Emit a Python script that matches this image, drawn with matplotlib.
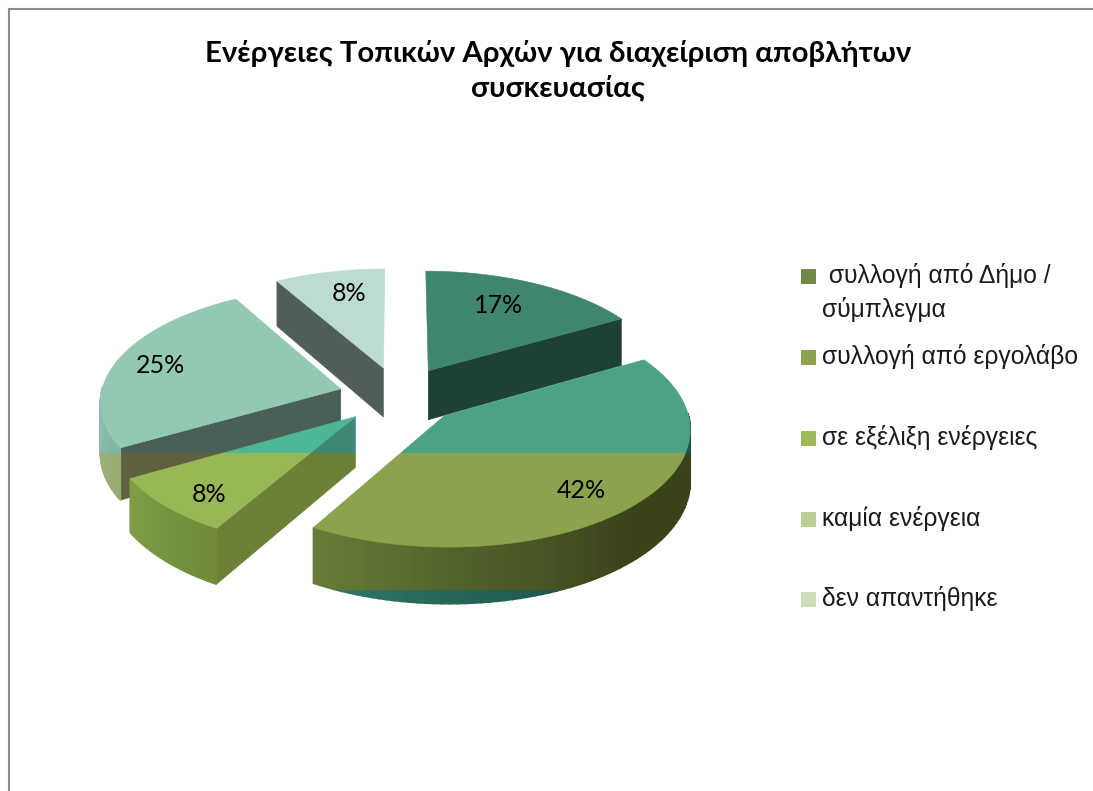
import numpy as np
import matplotlib
matplotlib.use("Agg")
import matplotlib.pyplot as plt
from matplotlib.patches import Rectangle
from matplotlib import colors as mc

title = "Ενέργειες Τοπικών Αρχών για διαχείριση αποβλήτων\nσυσκευασίας"
categories = [" συλλογή από Δήμο /\nσύμπλεγμα", "συλλογή από εργολάβο", "σε εξέλιξη ενέργειες",
              "καμία ενέργεια", "δεν απαντήθηκε"]
shares = [16.7, 41.7, 8.3, 25.0, 8.3]
legend_colors = ["#6F8A45", "#8AA34C", "#9CBB58", "#BACF94", "#CFDDBC"]

top_upper = ["#3F8570", "#4BA287", "#4DB699", "#93C8B2", "#BCDCCF"]
top_lower = ["#3F8570", "#8AA34C", "#98B855", "#93C8B2", "#BCDCCF"]
radial_upper = ["#1E4035", "#1E4035", "#3F8875", "#4A5F55", "#4F5F58"]
radial_lower = ["#1E4035", "#1E4035", "#6C8038", "#5E6040", "#4F5F58"]
arc_upper = [("#1E4035", "#1E4035"), ("#1D5048", "#2F7F6C"), ("#3F8875", "#3F8875"), ("#7FB5A4", "#8CC0AE"), ("#4F5F58", "#4F5F58")]
arc_lower = [("#1E4035", "#1E4035"), ("#3A421A", "#667C38"), ("#6F8A3A", "#7E9E44"), ("#95AC73", "#9DB57C"), ("#4F5F58", "#4F5F58")]
arc_bottom = [("#1E4035", "#1E4035"), ("#1B4A42", "#2F7A68"), ("#6F8A3A", "#7E9E44"), ("#95AC73", "#9DB57C"), ("#4F5F58", "#4F5F58")]
arc_ramp = [0.0, 0.4, 0.0, 0.0, 0.0]
radial_side = [1, None, 0, 0, 0]      # which radial edge shows a wall (0 start, 1 end)
label_reach = [0.717, 0.79, 0.83, 0.805, 0.757]
label_turn = [-3, 4, -3.5, 0, 2.6]
nudge = [(4, 0), (7, 2), (1, 3), (0, 2), (2, 0)]
draw_order = [4, 0, 3, 2, 1]

X0, Y0, A, B, K, EXPLODE, H = 396, 394, 240, 114, 0.10, 0.24, 50
BAND1, BAND2 = 453, 590

fig = plt.figure(figsize=(10.93, 7.91), dpi=100)
ax = fig.add_axes([0, 0, 1, 1])
ax.set_xlim(0, 1093)
ax.set_ylim(791, 0)
ax.axis("off")
UI_FONT = ["Lato", "Open Sans", "DejaVu Sans"]


def project(px, py, n, z=0.0):
    s = 1 / (1 + K * py)
    return X0 + A * px * s + n[0], Y0 - B * py * s + n[1] + H * s * z


def band_clip(artist, lo, hi):
    artist.set_clip_path(Rectangle((0, lo), 1093, hi - lo, transform=ax.transData))


def face(xs, ys, upper, lower, bottom=None, lw=0.4):
    bottom = bottom or lower
    for col, lo, hi in ((upper, 0, BAND1), (lower, BAND1, BAND2), (bottom, BAND2, 791)):
        p, = ax.fill(xs, ys, color=col, lw=lw, zorder=2)
        band_clip(p, lo, hi)


def mix(pair, t):
    a, b = np.array(mc.to_rgb(pair[0])), np.array(mc.to_rgb(pair[1]))
    return tuple(a * t + b * (1 - t))


starts = np.cumsum([0] + shares[:-1]) * 3.6
ends = np.cumsum(shares) * 3.6
for i in draw_order:
    a0, a1 = np.radians(starts[i]), np.radians(ends[i])
    m = (a0 + a1) / 2
    cx, cy = EXPLODE * np.sin(m), EXPLODE * np.cos(m)
    th = np.linspace(a0, a1, 90)
    px = cx + np.sin(th)
    py = cy + np.cos(th)
    n = nudge[i]
    # radial wall
    if radial_side[i] is not None:
        j = -1 if radial_side[i] == 1 else 0
        ex, ey = px[j], py[j]
        p0 = project(cx, cy, n)
        p1 = project(ex, ey, n)
        p2 = project(ex, ey, n, 1)
        p3 = project(cx, cy, n, 1)
        face([p0[0], p1[0], p2[0], p3[0]], [p0[1], p1[1], p2[1], p3[1]], radial_upper[i], radial_lower[i])
    # outer wall, shaded along the arc
    vis = np.where(np.cos(th) < 0.03)[0]
    if len(vis) > 1:
        for k in range(len(vis) - 1):
            u, v = vis[k], vis[k + 1]
            q0 = project(px[u], py[u], n)
            q1 = project(px[v], py[v], n)
            q2 = project(px[v], py[v], n, 1)
            q3 = project(px[u], py[u], n, 1)
            t = k / max(len(vis) - 2, 1)
            t = np.clip((t - arc_ramp[i]) / (1 - arc_ramp[i]), 0, 1)
            face([q0[0], q1[0], q2[0], q3[0]], [q0[1], q1[1], q2[1], q3[1]],
                 mix(arc_upper[i], 1 - t), mix(arc_lower[i], 1 - t), mix(arc_bottom[i], 1 - t), lw=1.2)
    # top face
    tx, ty = project(np.r_[cx, px], np.r_[cy, py], n)
    face(tx, ty, top_upper[i], top_lower[i])
    # label
    la = m + np.radians(label_turn[i])
    lx, ly = project(cx + label_reach[i] * np.sin(la), cy + label_reach[i] * np.cos(la), n)
    ax.text(lx, ly, f"{shares[i]:.0f}%", ha="center", va="center", fontsize=18, color="#000000", zorder=5,
            family=UI_FONT)

ax.text(558, 71, title, ha="center", va="center", fontsize=21.2, fontweight="bold", linespacing=1.36,
        color="#000000", family=UI_FONT)

legend_y = [276, 357, 438, 519, 599]
for name, col, y in zip(categories, legend_colors, legend_y):
    ax.add_patch(Rectangle((801, y - 7.5), 15, 15, facecolor=col, edgecolor="none", zorder=3))
    lines = name.split("\n")
    ax.text(822, y - 0.5, lines[0], ha="left", va="center", fontsize=17.7, color="#1a1a1a",
            family=["Liberation Sans", "DejaVu Sans"])
    if len(lines) > 1:
        ax.text(822, y + 33, lines[1], ha="left", va="center", fontsize=17.7, color="#1a1a1a",
                family=["Liberation Sans", "DejaVu Sans"])

ax.plot([9, 9, 1093], [791, 9, 9], color="#8C8C8C", lw=1.5, solid_joinstyle="miter", zorder=1, clip_on=False)

fig.savefig("out.png", dpi=100, facecolor="white")
